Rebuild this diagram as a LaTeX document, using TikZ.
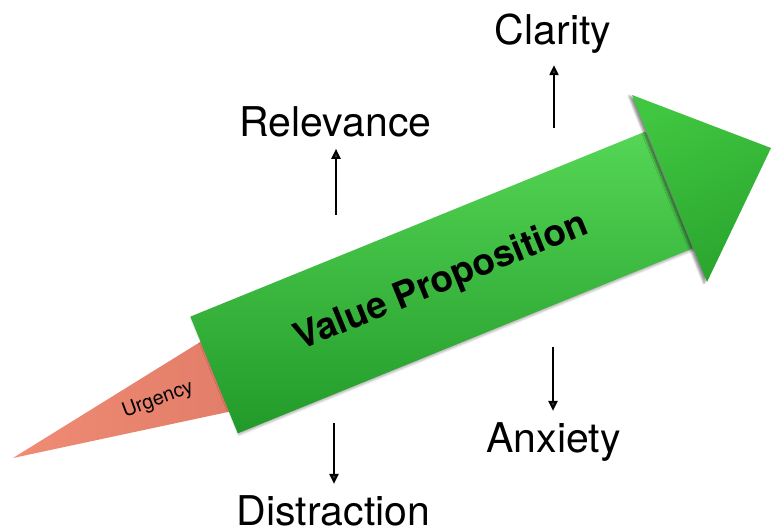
\documentclass[tikz,border=0pt]{standalone}
\usepackage{fontspec}
\setmainfont{TeX Gyre Heros}
\usetikzlibrary{arrows.meta,shadows.blur}
\definecolor{vpgreen}{HTML}{55D655}
\definecolor{vpgreendark}{HTML}{229A2A}
\definecolor{headgreen}{HTML}{40C640}
\definecolor{headgreendark}{HTML}{2AA52E}
\definecolor{urgency}{HTML}{F08C74}
\definecolor{urgencydark}{HTML}{DE7A66}

\tikzset{
  force/.style={font=\fontsize{41}{48}\selectfont, inner sep=0pt, anchor=base},
  pointer/.style={-{Triangle[length=10pt,width=9pt]}, line width=2pt, shorten >=11pt},
}

\begin{document}
\begin{tikzpicture}[x=1pt,y=-1pt]
  \useasboundingbox (0,0) rectangle (779,529);
  % tail
  \shade[left color=urgency, right color=urgencydark] (13,458) -- (247,313) -- (284,400) -- cycle;
  \node[rotate=20.5, font=\fontsize{20}{24}\selectfont] (urgency) at (158,400) {Urgency};
  % body
  \node[rotate=22.13, minimum width=491pt, minimum height=126pt,
        top color=vpgreen, bottom color=vpgreendark,
        blur shadow={shadow xshift=1pt, shadow yshift=-1.5pt, shadow opacity=30},
        font=\bfseries\fontsize{37}{44}\selectfont] (body) at (441.5,282.5) {Value Proposition};
  % head
  \coordinate (headtop) at (632,95);
  \coordinate (headtip) at (771,148);
  \coordinate (headbot) at (707,282);
  \shade[top color=headgreen, bottom color=headgreendark, shading angle=22,
         blur shadow={shadow xshift=-3pt, shadow yshift=-1pt, shadow opacity=45}]
    (headtop) -- (headtip) -- (headbot) -- cycle;
  % forces
  \node[force] (clarity) at (553,45) {Clarity};
  \node[force] (relevance) at (335.5,137) {Relevance};
  \node[force] (anxiety) at (553.5,452) {Anxiety};
  \node[force] (distraction) at (333.5,525) {Distraction};
  \coordinate (clarityfoot) at (554,128);
  \coordinate (relevancefoot) at (336,215);
  \coordinate (anxietyfoot) at (553,347);
  \coordinate (distractionfoot) at (334,423);
  \draw[pointer] (clarityfoot) -- (clarityfoot |- clarity.south);
  \draw[pointer] (relevancefoot) -- (relevancefoot |- relevance.south);
  \draw[pointer] (anxietyfoot) -- (anxietyfoot |- anxiety.north);
  \draw[pointer] (distractionfoot) -- (distractionfoot |- distraction.north);
\end{tikzpicture}
\end{document}
